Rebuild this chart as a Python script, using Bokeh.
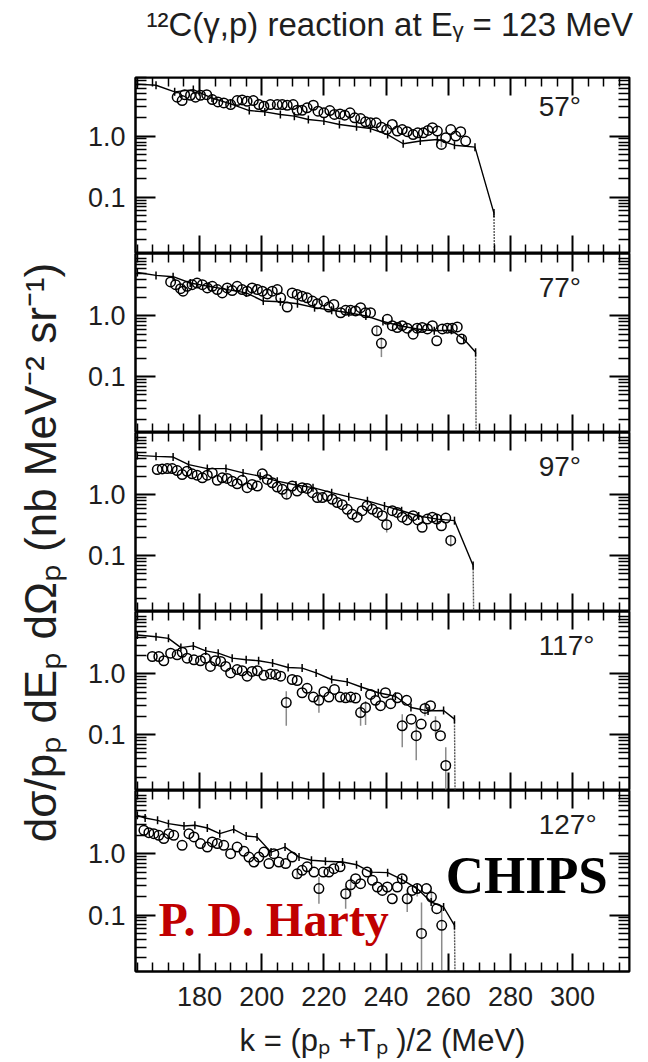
from math import pi
from bokeh.plotting import figure
from bokeh.models import (Range1d, FixedTicker, LinearAxis, LogAxis, Label,
                          CustomJSTickFormatter, CustomLabelingPolicy)
from bokeh.layouts import column, row
from bokeh.embed import file_html
from bokeh.resources import INLINE

# ---------------- data (k in MeV, cross section in nb MeV^-2 sr^-1) ----------------
# 57 deg
k57 = [172.8, 174.4, 175.2, 177.1, 178.7, 180.3, 182.3, 184.1, 185.9, 187.8, 190.0, 192.1, 193.7, 195.3,
       197.3, 199.1, 200.7, 202.8, 205.0, 206.6, 208.2, 210.1, 211.4, 213.0, 214.6, 216.6, 218.1, 220.0,
       221.9, 223.4, 225.2, 226.7, 228.4, 229.9, 231.8, 233.4, 235.0, 236.8, 238.5, 240.2, 242.0, 243.6,
       245.2, 246.8, 248.7, 250.2, 252.0, 253.5, 254.9, 256.5, 257.8, 259.2, 260.8, 262.4, 264.0, 265.6]
v57 = [4.33, 3.81, 4.77, 4.66, 4.33, 4.66, 4.77, 3.96, 3.63, 3.49, 3.28, 3.81, 3.91, 3.72,
       3.81, 3.28, 3.08, 3.28, 3.28, 3.28, 3.20, 3.28, 2.65, 2.65, 2.90, 3.20, 2.56, 2.40,
       2.62, 2.26, 2.31, 2.20, 2.40, 1.99, 1.94, 1.71, 1.65, 1.65, 1.40, 1.28, 1.55, 1.21,
       1.28, 1.18, 1.06, 1.13, 1.13, 1.24, 1.37, 1.21, 0.73, 0.94, 1.28, 1.00, 1.18, 0.83]
chips57_k = [160.0, 166.0, 172.0, 178.0, 184.0, 190.0, 196.0, 201.0, 206.0, 210.5, 215.0, 220.0,
             225.0, 230.5, 235.0, 240.5, 245.5, 251.0, 256.5, 262.0, 268.6, 274.7, 275.3]
chips57_v = [7.1, 6.8, 5.3, 5.77, 4.2, 3.37, 2.62, 2.49, 2.26, 2.12, 1.87, 1.76,
             1.55, 1.42, 1.33, 1.06, 0.75, 0.83, 0.88, 0.71, 0.66, 0.055, 0.0001]
err57_k = [257.8]
err57_lo = [0.66]
err57_hi = [0.80]

# 77 deg
k77 = [170.7, 172.3, 173.9, 174.7, 176.0, 177.6, 179.2, 180.9, 182.5, 184.1, 185.7, 187.3, 188.9, 190.5,
       192.1, 193.7, 195.3, 196.9, 198.6, 200.2, 201.8, 203.4, 205.0, 206.1, 208.2, 209.8, 211.4, 213.0,
       214.6, 216.3, 217.9, 220.0, 221.6, 223.2, 225.4, 227.0, 228.6, 230.2, 231.8, 233.4, 235.0, 237.0,
       238.5, 240.4, 242.0, 243.6, 245.2, 246.8, 248.7, 250.0, 251.6, 253.3, 254.9, 256.3, 258.1, 259.7,
       261.3, 262.9, 264.3]
v77 = [3.63, 3.28, 2.82, 2.56, 3.08, 3.28, 3.49, 3.28, 2.90, 3.08, 2.72, 2.40, 2.90, 2.62,
       3.08, 2.72, 2.56, 2.90, 2.72, 2.56, 2.31, 2.56, 2.72, 1.99, 1.40, 2.40, 2.26, 2.12,
       1.99, 1.76, 1.59, 1.76, 1.40, 1.55, 1.13, 1.24, 1.24, 1.21, 1.37, 1.13, 1.13, 0.57,
       0.354, 0.88, 0.69, 0.645, 0.69, 0.63, 0.50, 0.63, 0.645, 0.61, 0.69, 0.39, 0.61, 0.63,
       0.63, 0.66, 0.416]
chips77_k = [160.0, 166.0, 171.5, 177.0, 183.0, 189.0, 195.0, 200.5, 206.0, 211.5, 217.0,
             222.5, 228.0, 233.5, 239.0, 244.5, 250.0, 255.5, 261.0, 265.0, 268.8, 269.2]
chips77_v = [5.2, 4.66, 4.44, 3.49, 3.08, 2.72, 2.40, 1.76, 1.71, 1.59, 1.37,
             1.24, 1.13, 1.0, 0.81, 0.69, 0.61, 0.57, 0.58, 0.416, 0.252, 0.0001]
err77_k = [237.0, 238.5]
err77_lo = [0.48, 0.21]
err77_hi = [0.66, 0.44]

# 97 deg
k97 = [166.4, 168.0, 169.6, 171.2, 172.8, 174.4, 176.0, 177.6, 179.2, 180.9, 182.5, 184.1, 185.7, 187.3,
       188.9, 190.5, 192.1, 193.7, 195.3, 196.9, 198.6, 200.2, 201.8, 203.4, 205.0, 206.6, 208.0, 209.8,
       211.4, 213.0, 214.6, 216.3, 217.9, 219.5, 221.1, 222.7, 224.3, 225.9, 227.5, 229.1, 230.7, 232.3,
       233.9, 235.6, 237.2, 238.8, 240.2, 242.0, 243.6, 245.2, 246.8, 248.7, 250.2, 251.6, 253.3, 254.9,
       256.3, 257.8, 259.2, 260.8]
v97 = [2.62, 2.68, 2.72, 2.72, 2.52, 2.17, 2.46, 2.23, 2.12, 1.92, 2.12, 2.31, 1.74, 1.92,
       1.87, 1.69, 1.53, 1.74, 1.32, 1.49, 1.40, 2.23, 1.80, 1.59, 1.35, 1.24, 1.03, 1.40,
       1.16, 1.32, 1.28, 1.09, 0.905, 0.905, 0.96, 0.85, 0.75, 0.69, 0.58, 0.48, 0.43, 0.55,
       0.66, 0.58, 0.515, 0.455, 0.324, 0.55, 0.515, 0.43, 0.387, 0.455, 0.387, 0.293, 0.40, 0.43,
       0.40, 0.31, 0.416, 0.178]
chips97_k = [160.0, 166.0, 171.5, 176.5, 182.5, 188.5, 194.0, 199.5, 205.0, 211.0, 216.5,
             222.5, 228.0, 234.0, 239.5, 245.0, 250.5, 256.5, 262.0, 268.0, 268.6]
chips97_v = [4.49, 4.33, 4.22, 3.16, 2.72, 2.72, 2.31, 2.04, 1.69, 1.46, 1.32,
             1.09, 0.93, 0.80, 0.66, 0.55, 0.45, 0.40, 0.377, 0.069, 0.0001]
err97_k = [208.0, 240.2, 260.8]
err97_lo = [0.85, 0.24, 0.14]
err97_hi = [1.20, 0.42, 0.22]

# 117 deg
k117 = [164.8, 166.9, 168.5, 170.7, 172.8, 174.4, 176.0, 178.2, 180.3, 181.9, 183.5, 185.1, 186.8, 188.4,
        190.0, 192.1, 193.7, 195.3, 196.9, 198.6, 200.7, 202.8, 204.5, 206.1, 207.9, 209.8, 211.4, 213.0,
        214.6, 216.6, 218.4, 220.0, 221.6, 223.4, 225.2, 227.0, 228.6, 230.2, 231.8, 233.4, 235.0, 236.6,
        238.2, 239.8, 241.5, 243.6, 245.2, 246.6, 248.1, 249.7, 251.3, 252.5, 254.3, 255.9, 257.5, 259.2]
v117 = [1.94, 1.94, 1.65, 2.20, 2.07, 2.28, 1.82, 1.71, 1.65, 1.82, 1.33, 1.65, 1.61, 1.33,
        1.04, 1.18, 1.13, 0.92, 1.10, 1.13, 0.95, 1.0, 0.975, 0.92, 0.337, 0.81, 0.78, 0.49,
        0.58, 0.416, 0.367, 0.51, 0.416, 0.555, 0.416, 0.405, 0.416, 0.40, 0.231, 0.28, 0.46, 0.367,
        0.30, 0.49, 0.324, 0.405, 0.14, 0.367, 0.18, 0.096, 0.149, 0.27, 0.30, 0.14, 0.096, 0.031]
chips117_k = [160.0, 166.0, 170.0, 174.0, 178.0, 182.0, 186.0, 190.5, 195.0, 199.0, 203.5, 208.5,
              213.0, 217.5, 222.5, 227.5, 232.0, 237.5, 243.0, 248.0, 253.5, 258.5, 262.0, 262.5]
chips117_v = [4.38, 4.11, 3.86, 2.72, 2.90, 2.40, 2.20, 1.82, 1.71, 1.65, 1.51, 1.28,
              1.25, 1.04, 0.81, 0.74, 0.61, 0.49, 0.43, 0.28, 0.246, 0.25, 0.18, 0.0001]
err117_k = [207.9, 218.4, 231.8, 233.4, 245.2, 249.7, 252.5, 255.9, 259.2]
err117_lo = [0.14, 0.23, 0.14, 0.144, 0.062, 0.038, 0.20, 0.10, 0.001]
err117_hi = [0.52, 0.46, 0.30, 0.36, 0.217, 0.16, 0.34, 0.20, 0.062]

# 127 deg
k127 = [162.1, 163.7, 165.3, 166.9, 168.5, 170.1, 171.7, 174.4, 176.6, 178.2, 180.3, 182.5, 184.1, 185.7,
        187.8, 190.0, 192.1, 194.3, 195.9, 197.5, 199.1, 200.7, 202.3, 203.9, 205.5, 207.7, 209.8, 211.4,
        213.0, 214.6, 216.8, 218.4, 219.8, 221.6, 223.2, 225.2, 227.0, 228.6, 230.2, 231.8, 233.9, 235.6,
        237.2, 238.8, 240.4, 242.0, 243.6, 245.2, 246.8, 248.4, 250.0, 251.4, 253.0, 254.6, 256.3, 257.9]
v127 = [2.40, 2.20, 2.12, 1.99, 1.76, 2.12, 1.99, 1.37, 2.12, 1.87, 1.46, 1.28, 1.55, 1.46,
        1.37, 1.0, 1.28, 1.09, 0.88, 0.73, 0.88, 1.06, 0.69, 1.0, 0.73, 0.69, 0.88, 0.47,
        0.535, 0.61, 0.50, 0.27, 0.50, 0.50, 0.57, 0.61, 0.222, 0.31, 0.39, 0.324, 0.50, 0.367,
        0.286, 0.252, 0.286, 0.184, 0.286, 0.39, 0.184, 0.252, 0.27, 0.050, 0.27, 0.196, 0.127, 0.068]
chips127_k = [160.0, 162.5, 166.5, 170.0, 175.0, 178.5, 182.5, 186.5, 191.0, 195.0, 198.5, 203.0, 207.5,
              212.0, 216.0, 220.5, 226.0, 230.5, 235.0, 240.5, 245.0, 250.0, 254.5, 258.5, 262.0, 262.6]
chips127_v = [4.22, 3.81, 3.49, 3.08, 2.82, 2.90, 2.62, 2.12, 2.49, 1.94, 1.87, 1.06, 1.28,
              0.88, 0.78, 0.75, 0.73, 0.66, 0.50, 0.49, 0.38, 0.27, 0.163, 0.135, 0.068, 0.0001]
err127_k = [211.4, 218.4, 227.0, 228.6, 246.8, 250.0, 251.4, 254.6, 257.9]
err127_lo = [0.40, 0.153, 0.127, 0.20, 0.112, 0.20, 0.001, 0.15, 0.001]
err127_hi = [0.55, 0.416, 0.30, 0.40, 0.26, 0.33, 0.16, 0.25, 0.13]

angles = ["57°", "77°", "97°", "117°", "127°"]
x_tick_labels = ["180", "200", "220", "240", "260", "280", "300"]

# ---------------- styling ----------------
SANS = "Liberation Sans"
SERIF = "Liberation Serif"
XLIM = (159.4, 318.3)
X_MAJOR = [int(t) for t in x_tick_labels]
X_MINOR = [t for t in range(160, 320, 5) if t not in X_MAJOR]
Y_MAJOR = [0.1, 1.0]
Y_MINOR = [m * d for d in (0.01, 0.1, 1.0) for m in range(2, 10)]
LEFT_W = 68
TITLE_H = 60
TOTAL_W = LEFT_W + 67 + 494 + 16


def style_axis(ax, tin, tmin, labels=False, size="27px", standoff=10):
    ax.major_tick_in = tin
    ax.major_tick_out = 0
    ax.minor_tick_in = tmin
    ax.minor_tick_out = 0
    ax.major_tick_line_width = 2
    ax.minor_tick_line_width = 1.5
    ax.major_tick_line_color = "black"
    ax.minor_tick_line_color = "black"
    ax.axis_line_width = 2
    ax.axis_line_color = "black"
    if labels:
        ax.major_label_text_font = SANS
        ax.major_label_text_font_size = size
        ax.major_label_text_color = "#1e1e1e"
        ax.major_label_standoff = standoff
    else:
        ax.major_label_text_font_size = "1px"
        ax.major_label_standoff = 0
        ax.major_label_policy = CustomLabelingPolicy(
            code="for (const i of indices) indices.unset(i)")


def panel(kd, vd, ck, cv, ek, elo, ehi, ylim, fh, angle, top, bottom, last=False):
    p = figure(frame_width=494, frame_height=fh,
               x_range=Range1d(*XLIM), y_range=Range1d(*ylim),
               y_axis_type="log", output_backend="svg", toolbar_location=None,
               min_border_left=67, min_border_right=16,
               min_border_top=top, min_border_bottom=bottom,
               outline_line_color="black", outline_line_width=2,
               background_fill_color="white", border_fill_color="white")
    p.grid.visible = False
    p.add_layout(LinearAxis(fixed_location=ylim[1]), "above")
    p.add_layout(LogAxis(fixed_location=XLIM[1]), "right")
    xt = FixedTicker(ticks=X_MAJOR, minor_ticks=X_MINOR)
    yt = FixedTicker(ticks=Y_MAJOR, minor_ticks=Y_MINOR)
    for ax in p.below + p.above:
        ax.ticker = xt
    for ax in p.left + p.right:
        ax.ticker = yt
    style_axis(p.above[0], 18, 9)
    style_axis(p.right[0], 20, 11)
    style_axis(p.left[0], 20, 11, labels=True, standoff=10)
    p.left[0].formatter = CustomJSTickFormatter(code="return tick.toFixed(1);")
    if last:
        style_axis(p.below[0], 18, 9, labels=True, standoff=15)
        p.below[0].axis_label = "k = (pₚ +Tₚ )/2 (MeV)"
        p.below[0].axis_label_text_font = SANS
        p.below[0].axis_label_text_font_size = "31px"
        p.below[0].axis_label_text_font_style = "normal"
        p.below[0].axis_label_text_color = "#1e1e1e"
        p.below[0].axis_label_standoff = 14
    else:
        p.below[0].fixed_location = ylim[0]
        style_axis(p.below[0], 18, 9)

    p.segment(x0=ek, y0=elo, x1=ek, y1=ehi, line_color="#8a8a8a", line_width=1.5)
    # simulated spectrum; the final drop to zero drawn lighter and dotted
    p.line(ck[:-1], cv[:-1], line_color="black", line_width=1.4)
    p.line(ck[-2:], cv[-2:], line_color="#555555", line_width=1.4, line_dash="2 1")
    p.scatter(ck[:-1], cv[:-1], marker="dash", angle=pi / 2, size=8, line_color="black", line_width=1.5)
    p.scatter(kd, vd, marker="circle", size=9.5, fill_color=None, line_color="black", line_width=1.5)

    p.add_layout(Label(x=289.1, y=3.0, text=angle, text_font=SANS, text_font_size="28px",
                       text_color="#1e1e1e", text_align="left", text_baseline="middle"))
    return p


p1 = panel(k57, v57, chips57_k, chips57_v, err57_k, err57_lo, err57_hi, (0.012, 9.1), 176, angles[0],
           77 - TITLE_H, 0)
p2 = panel(k77, v77, chips77_k, chips77_v, err77_k, err77_lo, err77_hi, (0.012, 10.7), 179, angles[1], 0, 0)
p3 = panel(k97, v97, chips97_k, chips97_v, err97_k, err97_lo, err97_hi, (0.012, 10.7), 179, angles[2], 0, 0)
p4 = panel(k117, v117, chips117_k, chips117_v, err117_k, err117_lo, err117_hi, (0.012, 10.7), 179,
           angles[3], 0, 0)
p5 = panel(k127, v127, chips127_k, chips127_v, err127_k, err127_lo, err127_hi, (0.012, 10.7), 181,
           angles[4], 0, 88, last=True)

p5.add_layout(Label(x=166.8, y=0.086, text="P. D. Harty", text_font=SERIF, text_font_style="bold",
                    text_font_size="48px", text_color="#C00000", text_baseline="middle"))
p5.add_layout(Label(x=259.2, y=0.45, text="CHIPS", text_font=SERIF, text_font_style="bold",
                    text_font_size="53px", text_color="black", text_baseline="middle"))

# title strip across the top
tfig = figure(width=TOTAL_W, height=TITLE_H, x_range=Range1d(0, TOTAL_W), y_range=Range1d(0, TITLE_H),
              x_axis_type=None, y_axis_type=None, toolbar_location=None, output_backend="svg",
              outline_line_color=None, min_border=0)
tfig.grid.visible = False
tfig.add_layout(Label(x=146, y=TITLE_H - 24, text="¹²C(γ,p) reaction at Eᵧ = 123 MeV", text_font=SANS,
                      text_font_size="33px", text_color="#1e1e1e", text_align="left",
                      text_baseline="middle"))

# y-axis title spanning all panels
H = (77 - TITLE_H) + 176 + 179 * 3 + 181 + 88
lab = figure(width=LEFT_W, height=H, x_range=Range1d(0, LEFT_W), y_range=Range1d(0, H),
             x_axis_type=None, y_axis_type=None, toolbar_location=None, output_backend="svg",
             outline_line_color=None, min_border=0)
lab.grid.visible = False
lab.add_layout(Label(x=40, y=H - (552 - TITLE_H), text="dσ/pₚ dEₚ dΩₚ (nb MeV⁻² sr⁻¹)", angle=pi / 2,
                     text_font=SANS, text_font_size="44px", text_color="#1e1e1e",
                     text_align="center", text_baseline="middle"))

layout = column(tfig, row(lab, column(p1, p2, p3, p4, p5)))
open("out.html", "w").write(file_html(layout, INLINE))
